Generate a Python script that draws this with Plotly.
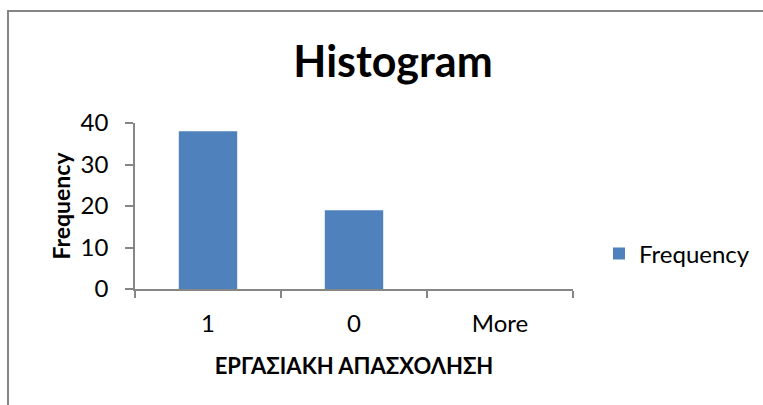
import plotly.graph_objects as go

# Histogram bins (employment status) and their counts
bins = ["1", "0", "More"]
frequency = [38, 19, 0]

FONT = "Lato"
BAR_COLOR = "#4F81BD"
AXIS_COLOR = "#868686"

fig = go.Figure()
fig.add_trace(go.Bar(
    x=bins,
    y=frequency,
    name="Frequency",
    marker=dict(color=BAR_COLOR, line=dict(width=0)),
    showlegend=True,
))

W, H = 763, 405
L, R, T, B = 135, 190, 123, 116
PW, PH = W - L - R, H - T - B

fig.update_layout(
    width=W,
    height=H,
    autosize=False,
    margin=dict(l=L, r=R, t=T, b=B, autoexpand=False),
    paper_bgcolor="white",
    plot_bgcolor="white",
    bargap=0.6,
    font=dict(family=FONT, color="black", size=24),
    title=dict(
        text="<b>Histogram</b>",
        font=dict(family=FONT, size=43, color="black"),
        x=393 / W,
        xanchor="center",
        y=1 - 62 / H,
        yanchor="middle",
    ),
    legend=dict(
        x=(599 - L) / PW,
        y=(H - B - 254) / PH,
        xanchor="left",
        yanchor="middle",
        font=dict(family=FONT, size=24, color="black"),
        bgcolor="rgba(0,0,0,0)",
    ),
    xaxis=dict(
        type="category",
        showgrid=False,
        showline=True,
        linecolor=AXIS_COLOR,
        linewidth=1.5,
        ticks="outside",
        tickson="boundaries",
        ticklen=7,
        tickwidth=1.5,
        tickcolor=AXIS_COLOR,
        ticklabelstandoff=12,
        tickfont=dict(family=FONT, size=24),
        title=dict(
            text="<b>ΕΡΓΑΣΙΑΚΗ ΑΠΑΣΧΟΛΗΣΗ</b>",
            font=dict(family=FONT, size=22),
            standoff=23,
        ),
    ),
    yaxis=dict(
        range=[0, 40],
        tickvals=[0, 10, 20, 30, 40],
        showgrid=False,
        zeroline=False,
        showline=True,
        linecolor=AXIS_COLOR,
        linewidth=1.5,
        ticks="outside",
        ticklen=8,
        tickwidth=1.5,
        tickcolor=AXIS_COLOR,
        ticklabelstandoff=12,
        tickfont=dict(family=FONT, size=24),
        title=dict(
            text="<b>Frequency</b>",
            font=dict(family=FONT, size=23),
            standoff=4,
        ),
    ),
    shapes=[
        # chart frame
        dict(
            type="rect", xref="paper", yref="paper",
            x0=(8 - L) / PW, x1=1.6,
            y0=-0.8, y1=1 + (T - 11) / PH,
            line=dict(color=AXIS_COLOR, width=2),
            fillcolor="rgba(0,0,0,0)",
            layer="below",
        )
    ],
)

fig.write_html("out.html")
